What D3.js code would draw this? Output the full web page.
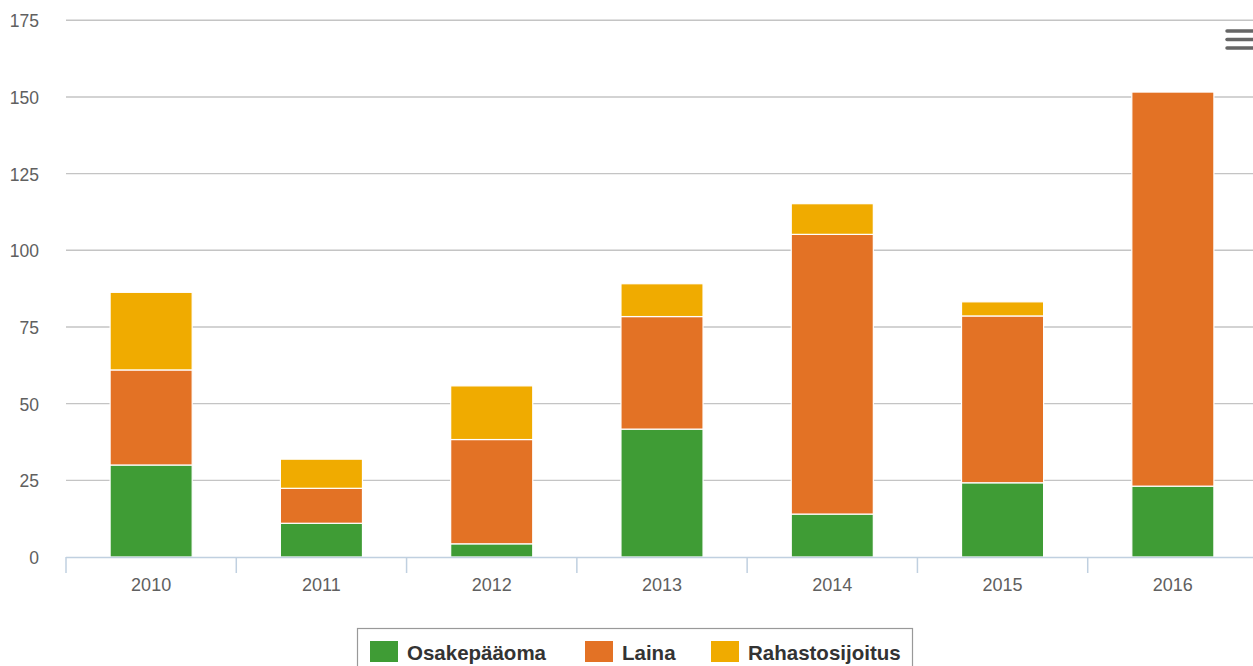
<!DOCTYPE html>
<html>
<head>
<meta charset="utf-8">
<script src="https://cdn.jsdelivr.net/npm/d3@7"></script>
<style>
  body { margin: 0; background: #fff; }
  svg { display: block; font-family: "Liberation Sans", Arial, Helvetica, sans-serif; }
</style>
</head>
<body>
<div class="chart"></div>
<script>
var years = ['2010', '2011', '2012', '2013', '2014', '2015', '2016'];
var osakepaaoma = [30, 11, 4.3, 41.7, 14, 24.2, 23.1];
var laina = [31, 11.4, 34, 36.7, 91.2, 54.4, 128.5];
var rahastosijoitus = [25.3, 9.5, 17.5, 10.7, 10, 4.6, 0];
var seriesNames = ['Osakepääoma', 'Laina', 'Rahastosijoitus'];
var seriesColors = ['#3f9c35', '#e37225', '#f0ab00'];
var yTicks = [0, 25, 50, 75, 100, 125, 150, 175];

var width = 1253,
    height = 666;

var svg = d3.select('.chart')
    .append('svg')
    .attr('width', width)
    .attr('height', height);

// plot area (note: "top" is reserved on window, so use plotTop)
var plotLeft = 66, plotRight = 1258, plotTop = 20.3, plotBottom = 557;

var x = d3.scaleBand()
    .domain(years)
    .range([plotLeft, plotRight])
    .paddingInner(0.518)
    .paddingOuter(0.259);

var y = d3.scaleLinear()
    .domain([0, 175])
    .range([plotBottom, plotTop]);

// gridlines
svg.append('g')
    .selectAll('line')
    .data(yTicks.filter(function(d) { return d > 0; }))
    .enter()
    .append('line')
    .attr('x1', plotLeft)
    .attr('x2', plotRight)
    .attr('y1', function(d) { return y(d); })
    .attr('y2', function(d) { return y(d); })
    .attr('stroke', '#c4c4c4')
    .attr('stroke-width', 1.4);

// y labels
svg.append('g')
    .selectAll('text')
    .data(yTicks)
    .enter()
    .append('text')
    .attr('x', 39)
    .attr('y', function(d) { return y(d) + 7; })
    .attr('text-anchor', 'end')
    .attr('fill', '#606060')
    .style('font-size', '17.5px')
    .text(function(d) { return d; });

// stacked bars
var rows = years.map(function(yr, i) {
    return { year: yr, Osakepääoma: osakepaaoma[i], Laina: laina[i], Rahastosijoitus: rahastosijoitus[i] };
});
var stacked = d3.stack().keys(seriesNames)(rows);

svg.append('g')
    .selectAll('g')
    .data(stacked)
    .enter()
    .append('g')
    .attr('fill', function(d, i) { return seriesColors[i]; })
    .selectAll('rect')
    .data(function(d) { return d.filter(function(s) { return s[1] - s[0] > 0; }); })
    .enter()
    .append('rect')
    .attr('x', function(d) { return x(d.data.year); })
    .attr('width', x.bandwidth())
    .attr('y', function(d) { return y(d[1]); })
    .attr('height', function(d) { return y(d[0]) - y(d[1]); })
    .attr('stroke', '#fff')
    .attr('stroke-width', 1.2);

// x axis
var xAxis = svg.append('g');
xAxis.append('line')
    .attr('x1', plotLeft).attr('x2', plotRight)
    .attr('y1', plotBottom + 0.5).attr('y2', plotBottom + 0.5)
    .attr('stroke', '#c0d0e0')
    .attr('stroke-width', 1.5);

var bounds = d3.range(years.length + 1).map(function(i) { return plotLeft + i * x.step(); });
xAxis.selectAll('line.tick')
    .data(bounds)
    .enter()
    .append('line')
    .attr('class', 'tick')
    .attr('x1', function(d) { return d; })
    .attr('x2', function(d) { return d; })
    .attr('y1', plotBottom)
    .attr('y2', plotBottom + 16)
    .attr('stroke', '#c0d0e0')
    .attr('stroke-width', 1.5);

xAxis.selectAll('text')
    .data(years)
    .enter()
    .append('text')
    .attr('x', function(d) { return x(d) + x.bandwidth() / 2; })
    .attr('y', 591)
    .attr('text-anchor', 'middle')
    .attr('fill', '#606060')
    .style('font-size', '18px')
    .text(function(d) { return d; });

// legend
var legend = svg.append('g');
legend.append('rect')
    .attr('x', 357.5).attr('y', 628.5)
    .attr('width', 555).attr('height', 50)
    .attr('fill', 'none')
    .attr('stroke', '#999')
    .attr('stroke-width', 1.2);

var legendX = [370, 585, 711];
var item = legend.selectAll('g.item')
    .data(seriesNames)
    .enter()
    .append('g')
    .attr('class', 'item')
    .attr('transform', function(d, i) { return 'translate(' + legendX[i] + ',0)'; });

item.append('rect')
    .attr('x', 0).attr('y', 641)
    .attr('width', 28).attr('height', 21)
    .attr('fill', function(d, i) { return seriesColors[i]; });

item.append('text')
    .attr('x', 37)
    .attr('y', 660)
    .attr('fill', '#333')
    .style('font-size', '20.5px')
    .style('font-weight', 'bold')
    .text(function(d) { return d; });

// context menu icon
svg.append('g')
    .selectAll('line')
    .data([31, 39.5, 48])
    .enter()
    .append('line')
    .attr('x1', 1227).attr('x2', 1256)
    .attr('y1', function(d) { return d; })
    .attr('y2', function(d) { return d; })
    .attr('stroke', '#666')
    .attr('stroke-width', 3.5)
    .attr('stroke-linecap', 'round');
</script>
</body>
</html>
